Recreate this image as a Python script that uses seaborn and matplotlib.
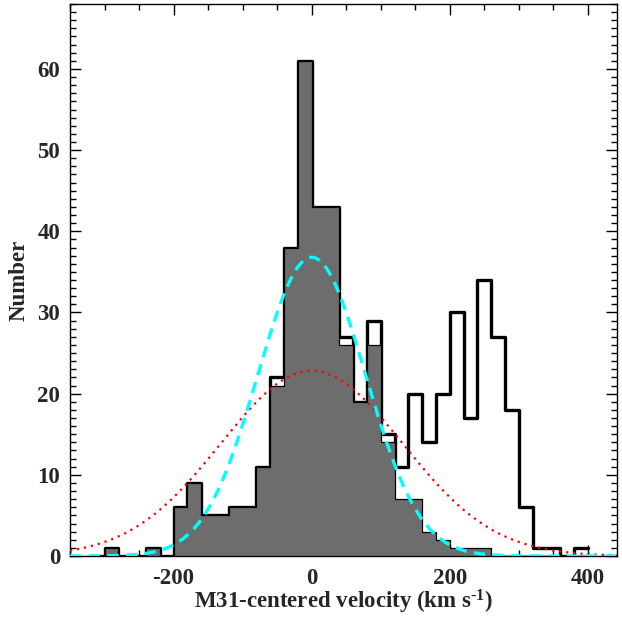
import numpy as np
import pandas as pd
import matplotlib
matplotlib.use("Agg")
import matplotlib.pyplot as plt
import seaborn as sns
from matplotlib.ticker import MultipleLocator

# ---- data ----
bin_left = [-300, -280, -260, -240, -220, -200, -180, -160, -140, -120,
            -100, -80, -60, -40, -20, 0, 20, 40, 60, 80,
            100, 120, 140, 160, 180, 200, 220, 240, 260, 280,
            300, 320, 340, 360, 380]
counts_all = [1, 0, 0, 1, 0, 6, 9, 5, 5, 6,
              6, 11, 22, 38, 61, 43, 43, 27, 19, 29,
              15, 11, 20, 14, 20, 30, 17, 34, 27, 18,
              6, 1, 1, 0, 1]
counts_m31 = [1, 0, 0, 1, 0, 6, 9, 5, 5, 6,
              6, 11, 21, 38, 61, 43, 43, 26, 19, 26,
              14, 7, 7, 3, 2, 1, 1, 1, 0, 0,
              0, 0, 0, 0, 0]
bin_width = 20

# Gaussian models (mean, sigma, peak height)
narrow_fit = (0.0, 78.0, 36.8)
broad_fit = (0.0, 132.0, 22.8)

xlim = (-350, 442)
ylim = (0, 68)
xticks = [-200, 0, 200, 400]
yticks = [0, 10, 20, 30, 40, 50, 60]

# ---- figure ----
sns.set_theme(style="ticks")
plt.rcParams["font.family"] = ["Liberation Serif", "DejaVu Serif"]
plt.rcParams["axes.unicode_minus"] = False
plt.rcParams["mathtext.fontset"] = "custom"
plt.rcParams["mathtext.rm"] = "Liberation Serif:bold"
plt.rcParams["mathtext.bf"] = "Liberation Serif:bold"
plt.rcParams["mathtext.it"] = "Liberation Serif:bold"

fig = plt.figure(figsize=(6.22, 6.18), dpi=100)
ax = fig.add_axes([70 / 622, 62 / 618, (617 - 70) / 622, (556 - 4) / 618])

edges = list(range(bin_left[0] - bin_width, bin_left[-1] + 2 * bin_width, bin_width))
centers = np.array(bin_left) + bin_width / 2
v_all = np.repeat(centers, counts_all)
v_m31 = np.repeat(centers, counts_m31)

sns.histplot(x=v_all, bins=edges, element="step",
             fill=False, color="black", linewidth=2.4, ax=ax, zorder=2)
sns.histplot(x=v_m31, bins=edges, element="step",
             fill=True, color="#6d6d6d", alpha=1.0, edgecolor="black",
             linewidth=0.9, ax=ax, zorder=3)

xs = np.linspace(xlim[0], xlim[1], 600)
for (mu, sig, amp), col, ls, lw in [
        (broad_fit, "red", (0, (1, 2.2)), 1.6),
        (narrow_fit, "cyan", (0, (3.4, 2.2)), 2.4)]:
    ys = amp * np.exp(-0.5 * ((xs - mu) / sig) ** 2)
    sns.lineplot(x=xs, y=ys, color=col, linestyle=ls, linewidth=lw,
                 ax=ax, zorder=4)

ax.set_xlim(*xlim)
ax.set_ylim(*ylim)
ax.set_xticks(xticks)
ax.set_yticks(yticks)
ax.xaxis.set_minor_locator(MultipleLocator(50))
ax.yaxis.set_minor_locator(MultipleLocator(1))
ax.tick_params(which="both", direction="in", top=True, right=True,
               color="black", width=1.0)
ax.tick_params(which="major", length=8, labelsize=16.5)
ax.tick_params(axis="x", which="major", pad=9)
ax.tick_params(axis="y", which="major", pad=7)
ax.tick_params(which="minor", length=4)
for lab in ax.get_xticklabels() + ax.get_yticklabels():
    lab.set_fontweight("bold")
for sp in ax.spines.values():
    sp.set_visible(True)
    sp.set_color("black")
    sp.set_linewidth(1.0)

ax.set_xlabel(r"M31-centered velocity (km s$^{\text{-}1}$)", fontsize=16.5,
              fontweight="bold", labelpad=-1)
ax.set_ylabel("Number", fontsize=16.5, fontweight="bold", labelpad=6)

fig.savefig("out.png", dpi=100)
